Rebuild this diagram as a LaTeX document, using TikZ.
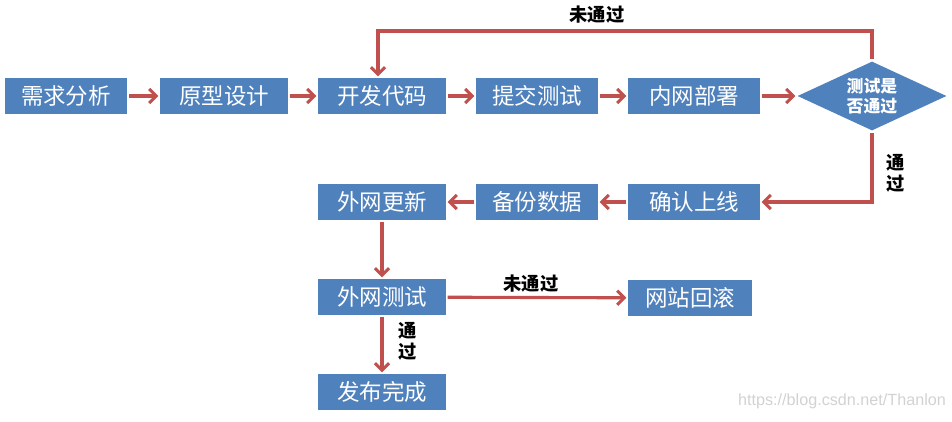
\documentclass[tikz,border=0pt]{standalone}
\usepackage{fontspec}
\setmainfont{Liberation Sans}
\newfontfamily\cjk{Noto Sans CJK SC}
\usepackage{tikz}
\usetikzlibrary{arrows.meta,shapes.geometric}
\definecolor{boxblue}{HTML}{4F81BD}
\definecolor{arrowred}{HTML}{C0504D}

\begin{document}
\begin{tikzpicture}[x=0.025cm, y=-0.025cm, ->, >={Straight Barb[length=5pt, width=10pt]}, line width=2.2pt, arrowred,
    box/.style={fill=boxblue, text=white, minimum width=3.2cm, minimum height=0.9cm, inner sep=0pt, font=\cjk\fontsize{16}{18}\selectfont},
    lbl/.style={text=black, align=center, font=\cjk\bfseries\fontsize{13}{15}\selectfont}]
    \useasboundingbox (0,0) rectangle (952,421);

    \node[box, minimum width=3.05cm] at (66, 96) (n 1 1)  {需求分析};
    \node[box] at (224, 96) (n 1 2) {原型设计};
    \node[box] at (382, 96) (n 1 3) {开发代码};
    \node[box, minimum width=3.05cm] at (537, 96) (n 1 4) {提交测试};
    \node[box, minimum width=3.3cm] at (694, 96) (n 1 5) {内网部署};
    \node[diamond, fill=boxblue, text=white, aspect=2, minimum width=3.75cm, minimum height=1.75cm, inner sep=0pt,
          align=center, font=\cjk\bfseries\fontsize{12}{14}\selectfont] at (872, 96) (n 1 6) {测试是\\否通过};

    \node[box, minimum width=3.3cm] at (694, 202) (n 2 1) {确认上线};
    \node[box, minimum width=3.05cm] at (537, 202) (n 2 2) {备份数据};
    \node[box] at (382, 202) (n 2 3) {外网更新};

    \node[box] at (382, 297) (n 3 1) {外网测试};
    \node[box, minimum width=3.1cm] at (690, 298) (n 3 2) {网站回滚};

    \node[box] at (382, 392) (n 4 1) {发布完成};

    \foreach \x/\y in {1/2, 2/3, 3/4, 4/5, 5/6}
    \draw (n 1 \x) -- (n 1 \y);

    \coordinate (back) at (378, 31);
    \draw (n 1 6.north) |- (back) -- (n 1 3.north -| back);
    \node[lbl] at (597, 15) (fail 1) {未通过};

    \draw (n 1 6.south) |- (n 2 1.east);
    \node[lbl] at (896, 173) (pass 1) {通\\过};

    \foreach \x/\y in {1/2, 2/3}
    \draw (n 2 \x) -- (n 2 \y);

    \draw (n 2 3) -- (n 3 1);
    \draw (n 3 1) -- (n 3 2);
    \node[lbl] at (531, 284) (fail 2) {未通过};
    \draw (n 3 1) -- (n 4 1);
    \node[lbl] at (408, 341) (pass 2) {通\\过};

    \node[text=gray!35, font=\fontsize{11.5}{13}\selectfont] at (842, 401) (mark) {https://blog.csdn.net/Thanlon};
\end{tikzpicture}
\end{document}
